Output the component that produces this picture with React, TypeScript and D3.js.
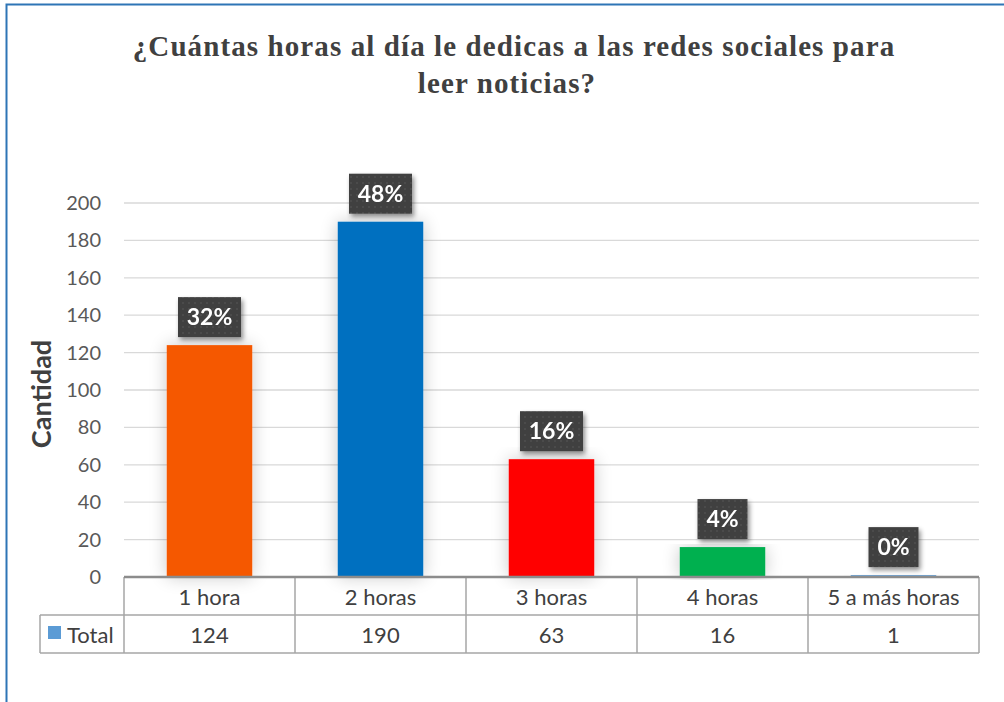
import React from "react";
import * as d3 from "d3";

const categories = ["1 hora", "2 horas", "3 horas", "4 horas", "5 a más horas"];
const totals = [124, 190, 63, 16, 1];
const percentLabels = ["32%", "48%", "16%", "4%", "0%"];
const barColors = ["#F55905", "#0070C0", "#FF0000", "#00B050", "#5B9BD5"];
const yTicks = [0, 20, 40, 60, 80, 100, 120, 140, 160, 180, 200];
const titleLines = ["¿Cuántas horas al día le dedicas a las redes sociales para", "leer noticias?"];
const seriesName = "Total";
const yAxisTitle = "Cantidad";

const W = 1004;
const H = 702;
const plotLeft = 124;
const plotRight = 979;
const plotTop = 203;
const plotBottom = 577;
const row1Bottom = 615;
const row2Bottom = 653;
const legendLeft = 40;
const FONT = "Lato, 'Open Sans', sans-serif";

export default function App() {
  const x = d3.scaleBand<string>().domain(categories).range([plotLeft, plotRight]).paddingInner(0).paddingOuter(0);
  const y = d3.scaleLinear().domain([0, 200]).range([plotBottom, plotTop]);
  const bw = x.bandwidth();
  const barW = bw * 0.5;

  return (
    <svg
      width={W}
      height={H}
      style={{ position: "absolute", left: 0, top: 0, display: "block", background: "#fff" }}
    >
      <defs>
        <pattern id="dots" width="6" height="6" patternUnits="userSpaceOnUse">
          <rect width="6" height="6" fill="#404040" />
          <circle cx="3" cy="3" r="0.8" fill="#5a5a5a" />
        </pattern>
        <filter id="lblShadow" x="-30%" y="-30%" width="160%" height="160%">
          <feGaussianBlur in="SourceAlpha" stdDeviation="2.5" />
          <feOffset dx="2" dy="3" result="ob" />
          <feComponentTransfer>
            <feFuncA type="linear" slope="0.45" />
          </feComponentTransfer>
          <feMerge>
            <feMergeNode />
            <feMergeNode in="SourceGraphic" />
          </feMerge>
        </filter>
        <filter id="barShadow" x="-60%" y="-10%" width="220%" height="120%">
          <feGaussianBlur in="SourceAlpha" stdDeviation="9" />
          <feComponentTransfer>
            <feFuncA type="linear" slope="0.22" />
          </feComponentTransfer>
          <feMerge>
            <feMergeNode />
            <feMergeNode in="SourceGraphic" />
          </feMerge>
        </filter>
      </defs>

      {/* chart frame */}
      <rect x={6.5} y={4.5} width={1010} height={720} fill="#fff" stroke="#2E75B6" strokeWidth={2} />

      {/* title */}
      <text
        textAnchor="middle"
        fontFamily="'Liberation Serif', 'Times New Roman', serif"
        fontWeight="bold"
        fontSize={29}
        letterSpacing={1.1}
        fill="#404040"
      >
        <tspan x={514} y={56}>{titleLines[0]}</tspan>
        <tspan x={507} y={93}>{titleLines[1]}</tspan>
      </text>

      {/* gridlines */}
      {yTicks.filter((t) => t > 0).map((t) => (
        <line key={t} x1={plotLeft} x2={plotRight} y1={y(t)} y2={y(t)} stroke="#D9D9D9" strokeWidth={1.3} />
      ))}

      {/* y tick labels */}
      {yTicks.map((t) => (
        <text
          key={t}
          x={101}
          y={y(t)}
          dy="0.35em"
          textAnchor="end"
          fontFamily={FONT}
          fontSize={20}
          fill="#595959"
        >
          {t}
        </text>
      ))}

      {/* y axis title */}
      <text
        transform={`translate(51,394) rotate(-90)`}
        textAnchor="middle"
        fontFamily={FONT}
        fontWeight="bold"
        fontSize={27}
        fill="#404040"
      >
        {yAxisTitle}
      </text>

      {/* bars */}
      {categories.map((c, i) => (
        <rect
          key={c}
          x={(x(c) as number) + (bw - barW) / 2}
          y={y(totals[i])}
          width={barW}
          height={plotBottom - y(totals[i])}
          fill={barColors[i]}
          filter="url(#barShadow)"
        />
      ))}

      {/* data table */}
      <g stroke="#A6A6A6" strokeWidth={1.5} fill="none">
        <line x1={plotLeft} x2={plotRight} y1={row1Bottom} y2={row1Bottom} />
        <line x1={legendLeft} x2={plotLeft} y1={row1Bottom} y2={row1Bottom} />
        <line x1={legendLeft} x2={plotRight} y1={row2Bottom} y2={row2Bottom} />
        <line x1={legendLeft} x2={legendLeft} y1={row1Bottom} y2={row2Bottom} />
        {categories.map((c) => (
          <line key={c} x1={x(c) as number} x2={x(c) as number} y1={plotBottom} y2={row2Bottom} />
        ))}
        <line x1={plotRight} x2={plotRight} y1={plotBottom} y2={row2Bottom} />
      </g>
      <line x1={plotLeft} x2={plotRight} y1={plotBottom} y2={plotBottom} stroke="#8C8C8C" strokeWidth={2.5} />

      {categories.map((c, i) => (
        <g key={c} fontFamily={FONT} fontSize={22} fill="#404040" textAnchor="middle">
          <text x={(x(c) as number) + bw / 2} y={(plotBottom + row1Bottom) / 2 + 1} dy="0.36em">
            {c}
          </text>
          <text x={(x(c) as number) + bw / 2} y={(row1Bottom + row2Bottom) / 2 + 1} dy="0.36em">
            {totals[i]}
          </text>
        </g>
      ))}

      {/* legend key */}
      <rect x={48} y={626} width={13} height={13} fill={barColors[4]} />
      <text x={67} y={(row1Bottom + row2Bottom) / 2 + 1} dy="0.36em" fontFamily={FONT} fontSize={22} fill="#404040">
        {seriesName}
      </text>

      {/* data labels */}
      {categories.map((c, i) => {
        const label = percentLabels[i];
        const w = label.length * 13 + 24;
        const h = 40;
        const cx = (x(c) as number) + bw / 2;
        const bottom = y(totals[i]) - 8;
        return (
          <g key={c} filter="url(#lblShadow)">
            <rect x={cx - w / 2} y={bottom - h} width={w} height={h} fill="url(#dots)" />
            <text
              x={cx}
              y={bottom - h / 2}
              dy="0.36em"
              textAnchor="middle"
              fontFamily={FONT}
              fontWeight="bold"
              fontSize={23}
              fill="#fff"
            >
              {label}
            </text>
          </g>
        );
      })}
    </svg>
  );
}
